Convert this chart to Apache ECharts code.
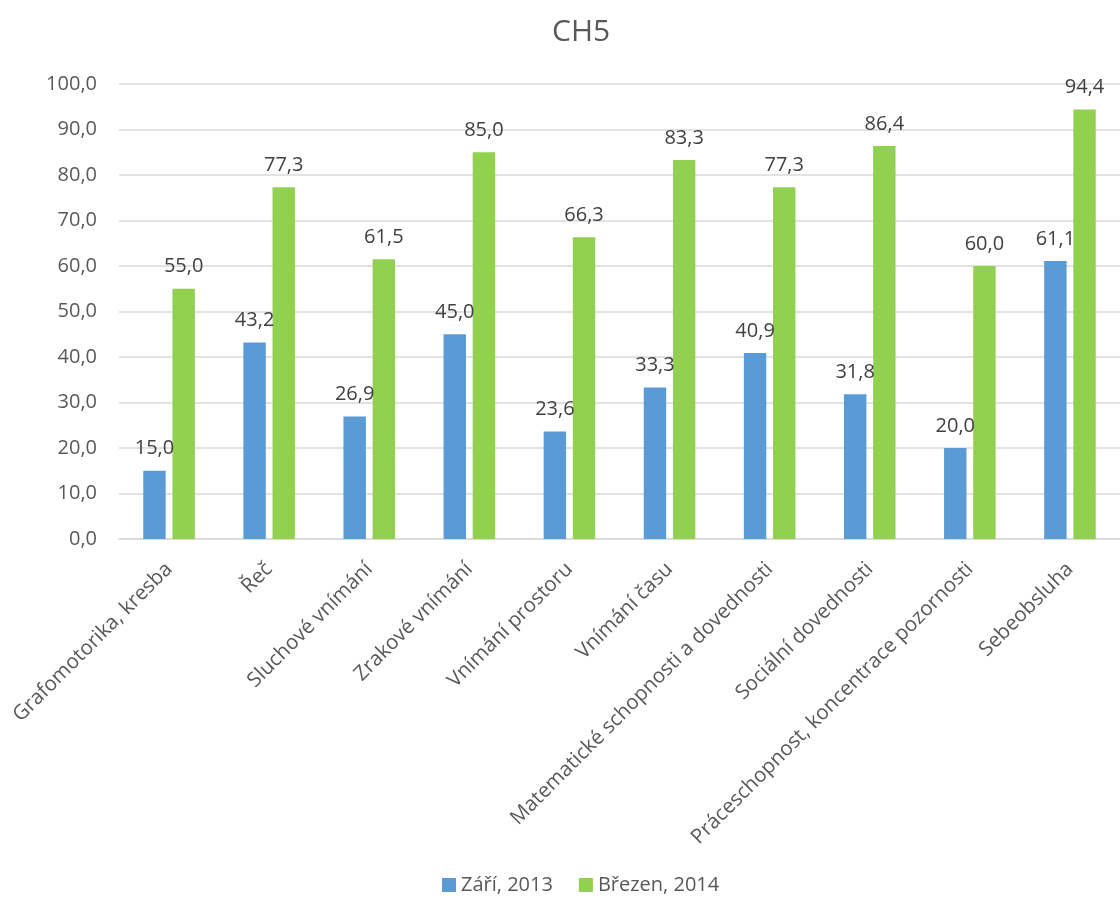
<!DOCTYPE html>
<html>
<head>
<meta charset="utf-8">
<script src="https://cdn.jsdelivr.net/npm/echarts@6/dist/echarts.min.js"></script>
<style>
  html, body { margin: 0; padding: 0; background: #ffffff; }
  #chart { width: 1120px; height: 904px; }
</style>
</head>
<body>
<div id="chart"></div>
<script>
// Categories and values for the two survey rounds
const categories = [
  'Grafomotorika, kresba',
  'Řeč',
  'Sluchové vnímání',
  'Zrakové vnímání',
  'Vnímání prostoru',
  'Vnímání času',
  'Matematické schopnosti a dovednosti',
  'Sociální dovednosti',
  'Práceschopnost, koncentrace pozornosti',
  'Sebeobsluha'
];
const seriesNames = ['Září, 2013', 'Březen, 2014'];
const zari2013 = [15.0, 43.2, 26.9, 45.0, 23.6, 33.3, 40.9, 31.8, 20.0, 61.1];
const brezen2014 = [55.0, 77.3, 61.5, 85.0, 66.3, 83.3, 77.3, 86.4, 60.0, 94.4];
const yMin = 0, yMax = 100, yStep = 10;

const fmt = v => Number(v).toFixed(1).replace('.', ',');
const FONT = '"Open Sans", "Noto Sans", sans-serif';
const FS = 20;

const chart = echarts.init(document.getElementById('chart'), null, { renderer: 'canvas' });

const labelStyle = {
  show: true,
  position: 'top',
  distance: 12,
  color: '#404040',
  fontSize: FS,
  fontFamily: FONT,
  formatter: p => fmt(p.value)
};

chart.setOption({
  animation: false,
  textStyle: { fontFamily: FONT },
  title: {
    text: 'CH5',
    left: 547,
    top: 12,
    textStyle: { color: '#595959', fontSize: 30, fontWeight: 'normal', fontFamily: FONT }
  },
  legend: {
    bottom: 4,
    left: 437,
    itemWidth: 14,
    itemHeight: 14,
    itemGap: 26,
    icon: 'rect',
    textStyle: { color: '#595959', fontSize: FS, fontFamily: FONT },
    data: seriesNames
  },
  grid: {
    left: 119,
    right: -14,
    top: 84,
    bottom: 365,
    containLabel: false
  },
  xAxis: {
    type: 'category',
    data: categories,
    axisLine: { show: true, lineStyle: { color: '#d9d9d9', width: 1.5 } },
    axisTick: { show: false },
    axisLabel: {
      interval: 0,
      rotate: 45,
      margin: 27,
      color: '#595959',
      fontSize: 20.5,
      fontFamily: FONT
    }
  },
  yAxis: {
    type: 'value',
    min: yMin,
    max: yMax,
    interval: yStep,
    axisLine: { show: false },
    axisTick: { show: false },
    splitLine: { lineStyle: { color: '#d9d9d9', width: 1.5 } },
    axisLabel: {
      margin: 22,
      color: '#595959',
      fontSize: FS,
      fontFamily: FONT,
      formatter: v => fmt(v)
    }
  },
  series: [
    {
      name: seriesNames[0],
      type: 'bar',
      data: zari2013,
      barWidth: '22.4%',
      barGap: '30%',
      itemStyle: { color: '#5B9BD5' },
      label: labelStyle
    },
    {
      name: seriesNames[1],
      type: 'bar',
      data: brezen2014,
      barWidth: '22.4%',
      barGap: '30%',
      itemStyle: { color: '#92D050' },
      label: labelStyle
    }
  ]
});
</script>
</body>
</html>
